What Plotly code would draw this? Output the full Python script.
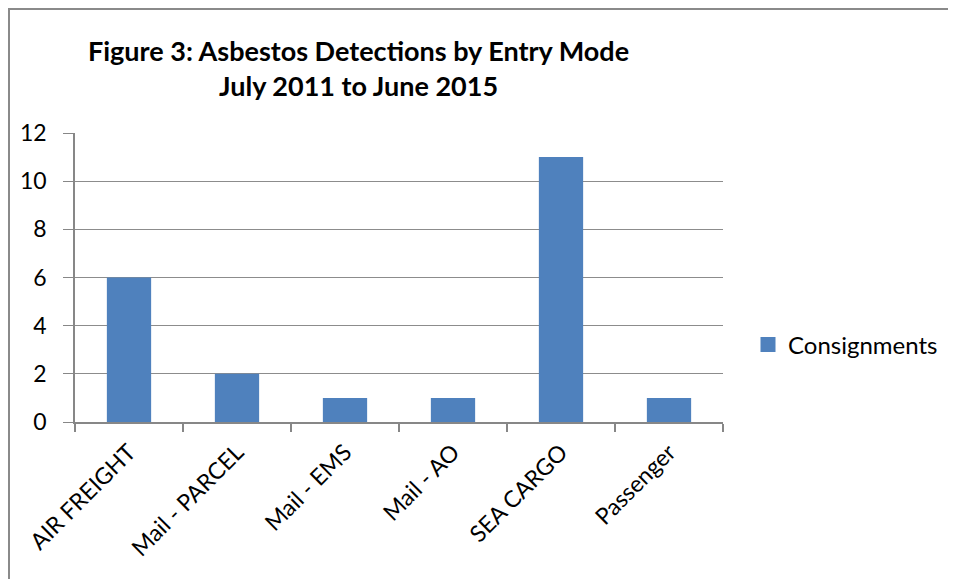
import plotly.graph_objects as go

categories = ["AIR FREIGHT", "Mail - PARCEL", "Mail - EMS", "Mail - AO", "SEA CARGO", "Passenger"]
consignments = [6, 2, 1, 1, 11, 1]
series_name = "Consignments"
title_lines = ["Figure 3: Asbestos Detections by Entry Mode", "July 2011 to June 2015"]

W, H = 956, 579
OFF = 8  # page body margin offset
# plot area in screen pixels: x 75..723, y 133..422
L = 75 - OFF
T = 133 - OFF
R = W - (723 - OFF)
B = H - (422 - OFF)
pw = W - L - R
ph = H - T - B

FONT = "Lato, Open Sans, sans-serif"
BAR_COLOR = "#4F81BD"


def px_x(sx):
    return (sx - OFF - L) / pw


def px_y(sy):
    return (H - B - (sy - OFF)) / ph


fig = go.Figure()
fig.add_trace(go.Bar(
    x=categories, y=consignments, name=series_name,
    marker=dict(color=BAR_COLOR, line=dict(width=0)),
    width=0.41, showlegend=False, legendgroup="c",
))
# legend entry with a larger square swatch
fig.add_trace(go.Scatter(
    x=[None], y=[None], mode="markers", name=series_name, legendgroup="c",
    marker=dict(symbol="square", size=15, color=BAR_COLOR), showlegend=True,
))

fig.update_layout(
    width=W, height=H,
    margin=dict(l=L, r=R, t=T, b=B, autoexpand=False),
    paper_bgcolor="white", plot_bgcolor="white",
    font=dict(family=FONT, color="black", size=22),
    showlegend=True,
    legend=dict(x=px_x(748), y=px_y(345), xanchor="left", yanchor="middle",
                font=dict(size=24, family=FONT), itemwidth=30,
                bgcolor="rgba(0,0,0,0)"),
    xaxis=dict(
        type="category", tickangle=-45, showline=True, linecolor="#878787", linewidth=1.5,
        ticks="outside", ticklen=8, tickcolor="#878787", tickwidth=1.5,
        tickson="boundaries", showgrid=False, tickfont=dict(size=23, family=FONT),
        range=[-0.5, 5.5], ticklabelstandoff=6,
    ),
    yaxis=dict(
        range=[0, 12], tickvals=[0, 2, 4, 6, 8, 10, 12], showgrid=True,
        gridcolor="#8c8c8c", gridwidth=1, zeroline=False,
        showline=True, linecolor="#878787", linewidth=1.5,
        ticks="outside", ticklen=10, tickcolor="#878787", tickwidth=1,
        tickfont=dict(size=23, family=FONT), ticklabelstandoff=12,
    ),
    bargap=0.59,
)

fig.add_annotation(
    text="<b>" + title_lines[0] + "</b><br><b>" + title_lines[1] + "</b>",
    xref="paper", yref="paper", x=px_x(358), y=px_y(68), xanchor="center", yanchor="middle",
    showarrow=False, font=dict(size=27, family=FONT, color="black"), align="center",
)

fig.add_shape(type="rect", xref="paper", yref="paper",
              x0=(1 - L) / pw, x1=(W + 10 - L) / pw,
              y0=(H - B - 1) / ph, y1=(H - B - (H + 10)) / ph,
              line=dict(color="#8a8a8a", width=2), fillcolor="rgba(0,0,0,0)", layer="below")

fig.write_html("out.html")
